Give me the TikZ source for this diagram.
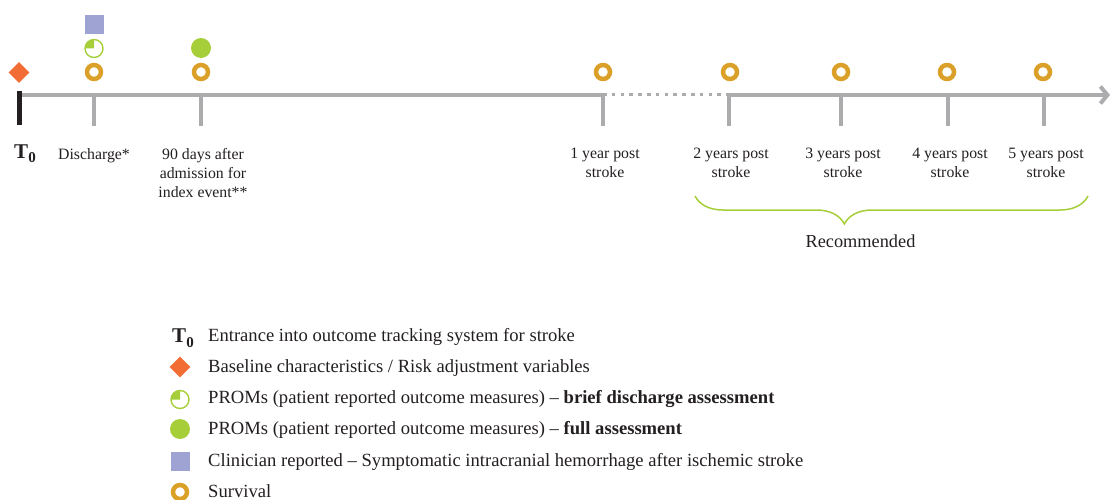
\documentclass[tikz,border=0pt]{standalone}
\usepackage{fontspec}
\setmainfont{Liberation Serif}
\usepackage{tikz}
\usetikzlibrary{arrows.meta}
\usetikzlibrary{shapes.geometric}
\usetikzlibrary{decorations.pathreplacing}
\usetikzlibrary{positioning}
\usepackage{color}
\definecolor{axisgray}{RGB}{172, 172, 174}
\definecolor{survgold}{RGB}{218, 160, 40}
\definecolor{promgreen}{RGB}{166, 206, 57}
\definecolor{basecoral}{RGB}{242, 109, 53}
\definecolor{clinblue}{RGB}{159, 163, 211}
\definecolor{inkblack}{RGB}{35, 31, 32}

\tikzset{
  survival/.style  ={circle, draw=survgold, line width=4.5pt, minimum size=14pt, inner sep=0pt},
  basevar/.style   ={diamond, fill=basecoral, minimum width=21pt, minimum height=21pt, inner sep=0pt},
  promfull/.style  ={circle, fill=promgreen, minimum size=20pt, inner sep=0pt},
  prombrief/.style ={circle, draw=promgreen, line width=1.4pt, minimum size=18pt, inner sep=0pt,
                     path picture={\fill[promgreen] (path picture bounding box.center) -- ++(0,10pt)
                                   arc (90:180:10pt) -- cycle;}},
  clinician/.style ={rectangle, fill=clinblue, minimum size=19pt, inner sep=0pt},
  axisline/.style  ={draw=axisgray, line width=4pt},
  axistick/.style  ={draw=axisgray, line width=4pt},
  timelabel/.style ={font=\fontsize{15.8}{19}\selectfont, text=inkblack, align=center, inner sep=0pt, anchor=north},
  legendtext/.style={font=\fontsize{18.6}{20}\selectfont, text=inkblack, inner sep=0pt, anchor=base west},
}
\newcommand{\tzero}{{\fontsize{21}{21}\selectfont\bfseries T}\raisebox{-5pt}{\fontsize{15}{15}\selectfont\bfseries 0}}

\begin{document}
\begin{tikzpicture}[x=1pt, y=-1pt]
            % Frame to fix the margins:
            \useasboundingbox                                          (   0.0,   0.0) rectangle (1111.0, 500.0);

            % Points on the time axis and ends of the ticks:
            \coordinate (ax0) at (  19.0,  95.0);  \coordinate (tk0) at (  19.0, 125.0);
            \coordinate (ax1) at (  94.0,  95.0);  \coordinate (tk1) at (  94.0, 126.0);
            \coordinate (ax2) at ( 201.0,  95.0);  \coordinate (tk2) at ( 201.0, 126.0);
            \coordinate (ax3) at ( 603.0,  95.0);  \coordinate (tk3) at ( 603.0, 126.0);
            \coordinate (ax4) at ( 729.0,  95.0);  \coordinate (tk4) at ( 729.0, 126.0);
            \coordinate (ax5) at ( 841.0,  95.0);  \coordinate (tk5) at ( 841.0, 126.0);
            \coordinate (ax6) at ( 948.0,  95.0);  \coordinate (tk6) at ( 948.0, 126.0);
            \coordinate (ax7) at (1044.0,  95.0);  \coordinate (tk7) at (1044.0, 126.0);
            \coordinate (axend) at (1110.0, 95.0);

            % Time axis:
            \draw[axisline]                                            (ax0) -- (ax3);
            \draw[draw=axisgray, line width=3pt, dash pattern=on 3.6pt off 5.2pt] (ax3) -- (ax4);
            \draw[axisline, -{Straight Barb[length=7pt, width=17pt]}]  (ax4) -- (axend);
            \draw[draw=inkblack, line width=5pt]                       (19.0, 91.0) -- (tk0);
            \draw[axistick]                                            (ax1) -- (tk1);
            \draw[axistick]                                            (ax2) -- (tk2);
            \draw[axistick]                                            (ax3) -- (tk3);
            \draw[axistick]                                            (ax4) -- (tk4);
            \draw[axistick]                                            (ax5) -- (tk5);
            \draw[axistick]                                            (ax6) -- (tk6);
            \draw[axistick]                                            (ax7) -- (tk7);

            % Measures above the axis:
            \node[basevar]   (base0)  at (  19.0,  72.5) {};
            \node[survival]  (surv1)  at (  94.0,  72.0) {};
            \node[prombrief] (brief1) at (  94.0,  48.5) {};
            \node[clinician] (clin1)  at (  94.0,  25.0) {};
            \node[survival]  (surv2)  at ( 201.0,  72.0) {};
            \node[promfull]  (full2)  at ( 201.0,  48.0) {};
            \node[survival]  (surv3)  at ( 603.0,  72.0) {};
            \node[survival]  (surv4)  at ( 730.0,  72.0) {};
            \node[survival]  (surv5)  at ( 841.0,  72.0) {};
            \node[survival]  (surv6)  at ( 947.0,  72.0) {};
            \node[survival]  (surv7)  at (1043.0,  72.0) {};

            % Labels under the axis:
            \node[text=inkblack, inner sep=0pt, anchor=base] (lbl0) at (  25.0, 158.0) {\tzero};
            \node[timelabel] (lbl1) at (  94.0, 148.0) {Discharge*};
            \node[timelabel] (lbl2) at ( 203.0, 148.0) {90 days after\\admission for\\index event**};
            \node[timelabel] (lbl3) at ( 605.0, 148.0) {1 year post\\stroke};
            \node[timelabel] (lbl4) at ( 731.0, 148.0) {2 years post\\stroke};
            \node[timelabel] (lbl5) at ( 843.0, 148.0) {3 years post\\stroke};
            \node[timelabel] (lbl6) at ( 950.0, 148.0) {4 years post\\stroke};
            \node[timelabel] (lbl7) at (1046.0, 148.0) {5 years post\\stroke};

            % Brace over the recommended years:
            \coordinate (br1) at ( 695.0, 196.0);
            \coordinate (br2) at (1088.0, 196.0);
            \draw[draw=promgreen, line width=1.5pt,
                  decorate, decoration={brace, mirror, amplitude=28pt, aspect=0.38}] (br1) -- (br2);
            \node[font=\fontsize{18.3}{20}\selectfont, text=inkblack, inner sep=0pt, anchor=base]
                 (rec) at ( 860.5, 247.0) {Recommended};

            % Legend:
            \node[text=inkblack, inner sep=0pt, anchor=base] (keyt0) at ( 183.0, 342.0) {\tzero};
            \node[basevar]   (keybase)  at ( 180.0, 367.0) {};
            \node[prombrief] (keybrief) at ( 180.0, 399.5) {};
            \node[promfull]  (keyfull)  at ( 180.0, 429.0) {};
            \node[clinician] (keyclin)  at ( 180.0, 461.0) {};
            \node[survival]  (keysurv)  at ( 180.0, 492.0) {};
            \node[legendtext] (txtt0)    at ( 208.0, 341.0) {Entrance into outcome tracking system for stroke};
            \node[legendtext] (txtbase)  at ( 208.0, 372.0) {Baseline characteristics / Risk adjustment variables};
            \node[legendtext] (txtbrief) at ( 208.0, 403.5) {PROMs (patient reported outcome measures) -- \textbf{brief discharge assessment}};
            \node[legendtext] (txtfull)  at ( 208.0, 434.5) {PROMs (patient reported outcome measures) -- \textbf{full assessment}};
            \node[legendtext] (txtclin)  at ( 208.0, 466.0) {Clinician reported -- Symptomatic intracranial hemorrhage after ischemic stroke};
            \node[legendtext] (txtsurv)  at ( 208.0, 497.0) {Survival};
        \end{tikzpicture}
\end{document}
